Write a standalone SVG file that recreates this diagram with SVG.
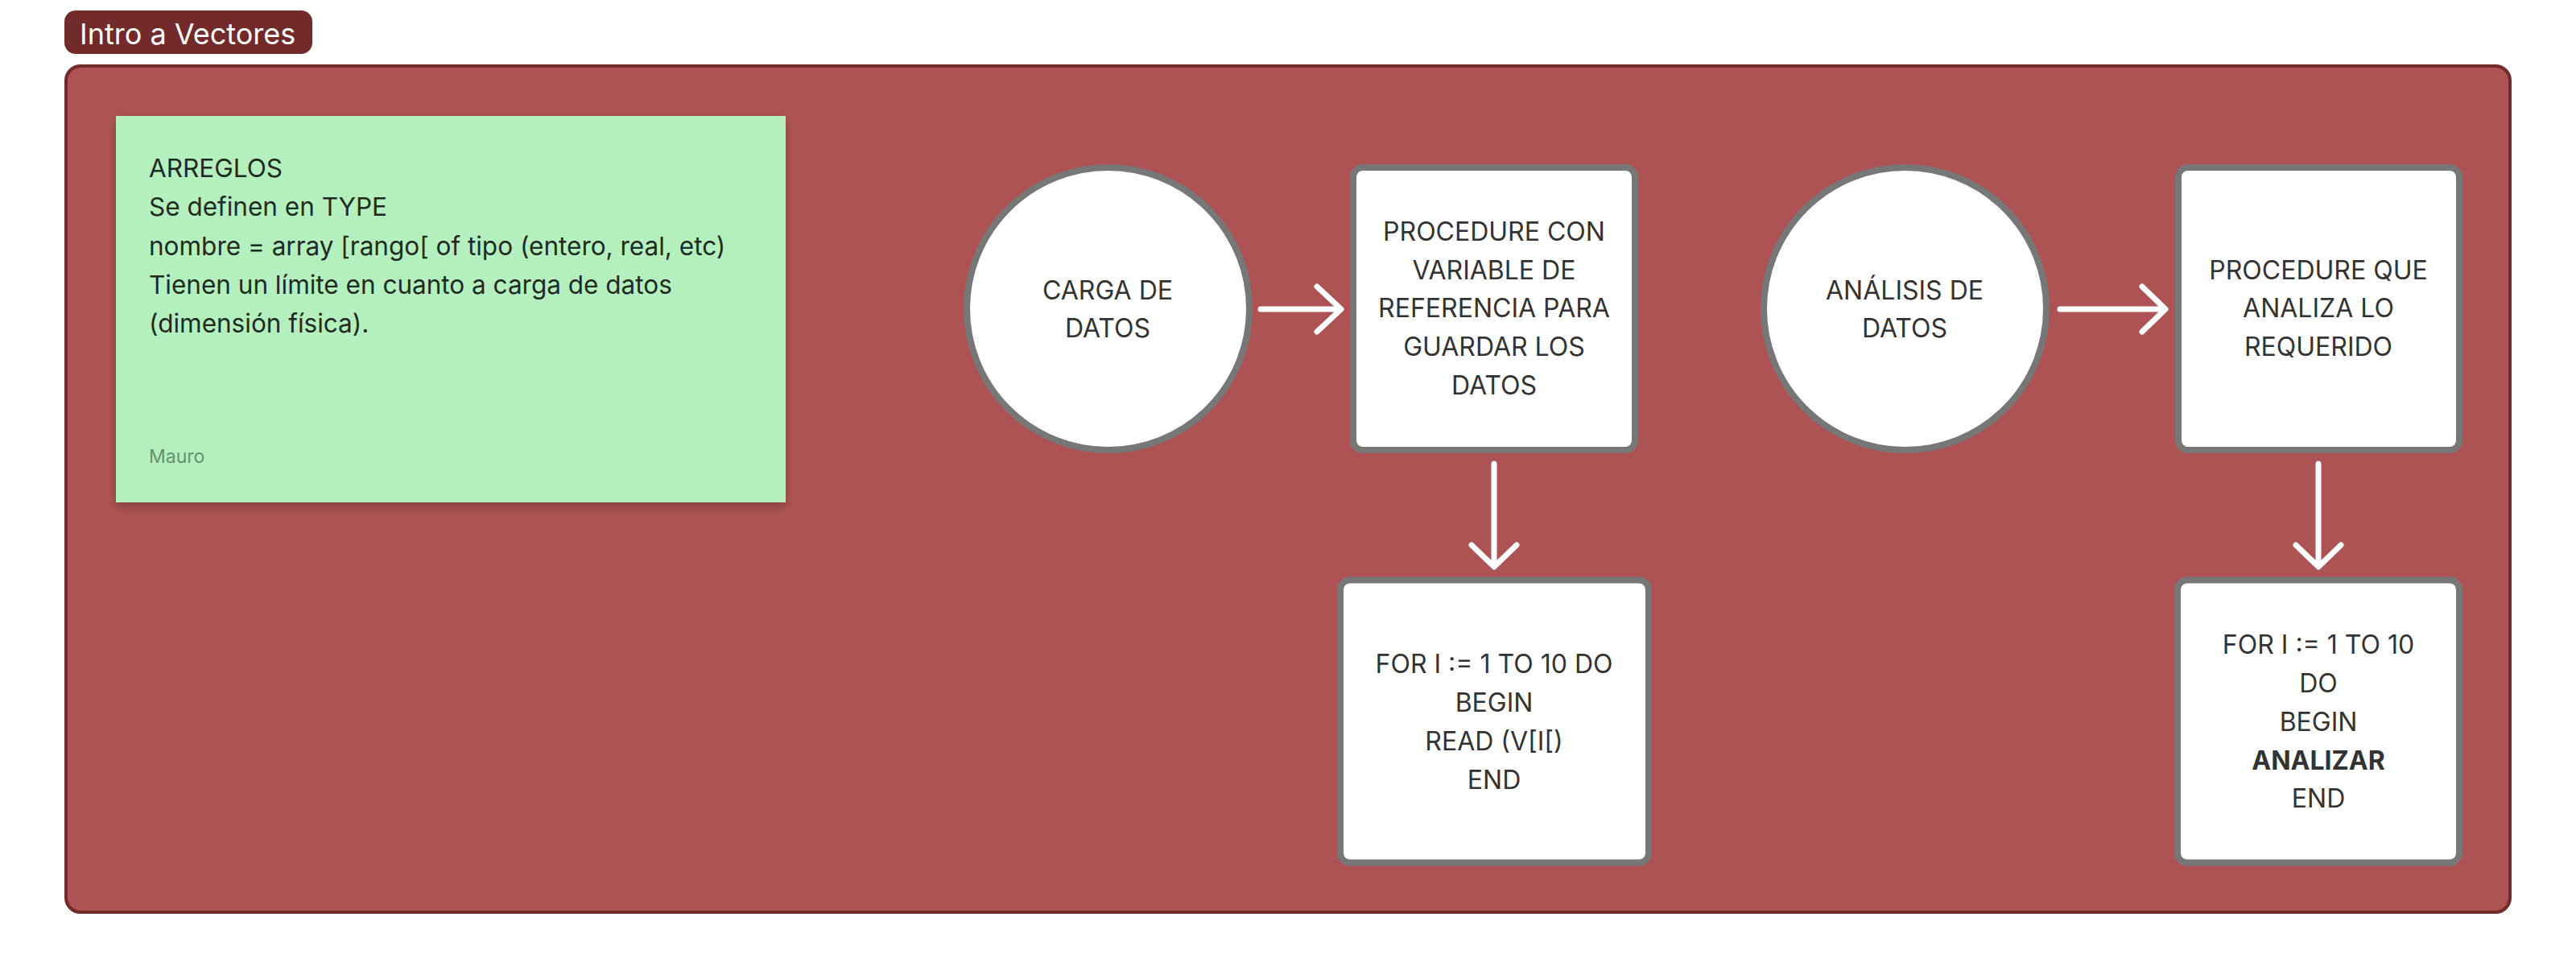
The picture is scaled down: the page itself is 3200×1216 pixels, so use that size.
<svg xmlns="http://www.w3.org/2000/svg" width="3200" height="1216" viewBox="0 0 3200 1216">
<defs>
<filter id="shadow" x="-10%" y="-10%" width="120%" height="130%">
<feDropShadow dx="0" dy="6" stdDeviation="6" flood-color="#000" flood-opacity="0.22"/>
</filter>
<style>
.frame{fill:#ad5353;stroke:#722a2a;stroke-width:4}
.label{fill:#722a2a}
.labeltxt{font-family:Inter,"Liberation Sans",sans-serif;font-size:36px;fill:#ffffff}
.note{fill:#b3f0bd}
.notetxt{font-family:Inter,"Liberation Sans",sans-serif;font-size:31.5px;fill:#1f2b22}
.author{font-family:Inter,"Liberation Sans",sans-serif;font-size:23px;fill:#6b8f6e}
.shape{fill:#ffffff;stroke:#777777;stroke-width:8}
.txt{font-family:Inter,"Liberation Sans",sans-serif;font-size:32px;fill:#333333;text-anchor:middle}
.bold{font-weight:700}
.conn{fill:none;stroke:#ffffff;stroke-width:7;stroke-linecap:round;stroke-linejoin:round}
</style>
</defs>
<rect width="3200" height="1216" fill="#ffffff"/>
<g id="frame">
<rect class="frame" x="82" y="82" width="3036" height="1051" rx="18"/>
<rect class="label" x="80" y="13" width="308" height="54" rx="14"/>
<text class="labeltxt" x="99" y="55">Intro a Vectores</text>
</g>
<g id="note-arreglos">
<rect class="note" x="144" y="144" width="832" height="480" filter="url(#shadow)"/>
<text class="notetxt" x="185" y="220">ARREGLOS</text>
<text class="notetxt" x="185" y="268">Se definen en TYPE</text>
<text class="notetxt" x="185" y="317">nombre = array [rango[ of tipo (entero, real, etc)</text>
<text class="notetxt" x="185" y="365">Tienen un límite en cuanto a carga de datos</text>
<text class="notetxt" x="185" y="413">(dimensión física).</text>
<text class="author" x="185" y="575">Mauro</text>
</g>
<g id="connectors">
<path class="conn" d="M1566,384 H1664 M1636,356 L1666,384 L1636,412"/>
<path class="conn" d="M2559,384 H2688 M2661,356 L2690,384 L2661,412"/>
<path class="conn" d="M1856,576 V702 M1828,677 L1856,704 L1884,677"/>
<path class="conn" d="M2880,576 V702 M2852,677 L2880,704 L2908,677"/>
</g>
<g id="carga-datos">
<circle class="shape" cx="1376.5" cy="383.5" r="175.5"/>
<text class="txt" x="1376" y="372">CARGA DE</text>
<text class="txt" x="1376" y="419">DATOS</text>
</g>
<g id="procedure-referencia">
<rect class="shape" x="1681" y="208" width="350" height="351" rx="12"/>
<text class="txt" x="1856" y="299">PROCEDURE CON</text>
<text class="txt" x="1856" y="347">VARIABLE DE</text>
<text class="txt" x="1856" y="394">REFERENCIA PARA</text>
<text class="txt" x="1856" y="442">GUARDAR LOS</text>
<text class="txt" x="1856" y="490">DATOS</text>
</g>
<g id="for-read">
<rect class="shape" x="1665" y="720.5" width="383" height="351" rx="12"/>
<text class="txt" x="1856" y="836">FOR I := 1 TO 10 DO</text>
<text class="txt" x="1856" y="884">BEGIN</text>
<text class="txt" x="1856" y="932">READ (V[I[)</text>
<text class="txt" x="1856" y="980">END</text>
</g>
<g id="analisis-datos">
<circle class="shape" cx="2366.5" cy="383.5" r="175.5"/>
<text class="txt" x="2366" y="372">ANÁLISIS DE</text>
<text class="txt" x="2366" y="419">DATOS</text>
</g>
<g id="procedure-analiza">
<rect class="shape" x="2706" y="208" width="349" height="351" rx="12"/>
<text class="txt" x="2880" y="347">PROCEDURE QUE</text>
<text class="txt" x="2880" y="394">ANALIZA LO</text>
<text class="txt" x="2880" y="442">REQUERIDO</text>
</g>
<g id="for-analizar">
<rect class="shape" x="2705" y="720.5" width="350" height="351" rx="12"/>
<text class="txt" x="2880" y="812">FOR I := 1 TO 10</text>
<text class="txt" x="2880" y="860">DO</text>
<text class="txt" x="2880" y="908">BEGIN</text>
<text class="txt bold" x="2880" y="956">ANALIZAR</text>
<text class="txt" x="2880" y="1003">END</text>
</g>
</svg>
